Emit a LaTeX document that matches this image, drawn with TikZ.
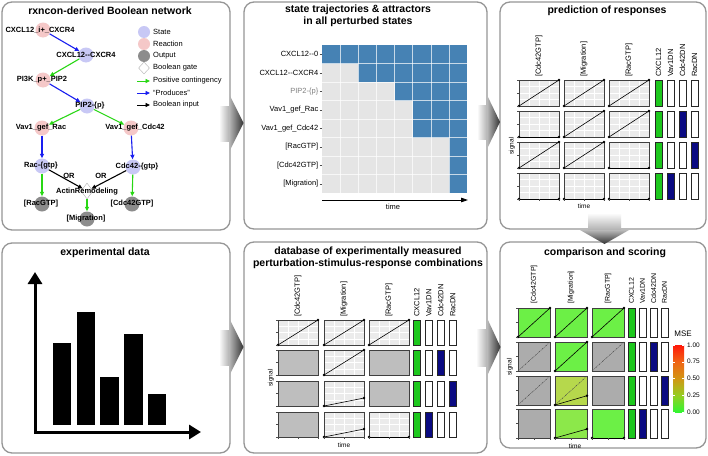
\documentclass[tikz,border=0pt]{standalone}
\usepackage{fontspec}
\setmainfont{Liberation Sans}
\usetikzlibrary{shapes.geometric,arrows.meta}
\definecolor{panelborder}{RGB}{150,150,150}
\definecolor{statec}{RGB}{200,200,245}
\definecolor{reactc}{RGB}{245,200,200}
\definecolor{outc}{RGB}{140,140,140}
\definecolor{posg}{RGB}{40,215,20}
\definecolor{prodb}{RGB}{25,30,240}
\definecolor{hmblue}{RGB}{70,130,180}
\definecolor{hmgray}{RGB}{229,229,229}
\definecolor{cellgray}{RGB}{235,235,235}
\definecolor{nodata}{RGB}{190,190,190}
\definecolor{nodata2}{RGB}{172,172,172}
\definecolor{bargreen}{RGB}{30,200,30}
\definecolor{barblue}{RGB}{10,10,130}
\definecolor{cmpgreen}{RGB}{108,240,70}
\definecolor{cmpyel}{RGB}{182,216,76}
\definecolor{cmpmid}{RGB}{140,232,74}
\definecolor{mse0}{RGB}{50,245,50}
\definecolor{mse25}{RGB}{150,205,35}
\definecolor{mse50}{RGB}{210,150,20}
\definecolor{mse75}{RGB}{240,100,20}
\definecolor{mse100}{RGB}{255,25,10}
\pgfdeclareverticalshading{mseshade}{100bp}{color(0bp)=(mse0); color(25bp)=(mse0); color(37.5bp)=(mse25); color(50bp)=(mse50); color(62.5bp)=(mse75); color(75bp)=(mse100); color(100bp)=(mse100)}
\tikzset{
 panel/.style={draw=panelborder, line width=1.3pt, fill=white, rounded corners=10pt},
 ttl/.style={font=\bfseries\fontsize{10.5}{12}\selectfont, inner sep=0pt},
 nlabel/.style={font=\bfseries\fontsize{7.5}{9}\selectfont, inner sep=0pt},
 legtext/.style={font=\fontsize{7.5}{9}\selectfont, anchor=west, inner sep=0pt},
 hlab/.style={font=\fontsize{7.5}{9}\selectfont, anchor=east, inner sep=0pt},
 colhead/.style={font=\fontsize{7.5}{9}\selectfont, rotate=90, anchor=west, inner sep=0pt},
 colheadsm/.style={font=\fontsize{7}{8}\selectfont, rotate=90, anchor=west, inner sep=0pt},
 axlab/.style={font=\fontsize{6.5}{8}\selectfont, inner sep=0pt},
 cellborder/.style={draw=black!75, line width=0.6pt},
 pline/.style={line width=0.6pt, draw=black},
 dashline/.style={draw=gray!60!black, line width=0.5pt, dash pattern=on 2pt off 1pt on 0.6pt off 1pt},
 tickst/.style={draw=black!70, line width=0.4pt},
 statenode/.style={circle, fill=statec, minimum size=15pt, inner sep=0pt},
 reactnode/.style={circle, fill=reactc, minimum size=15pt, inner sep=0pt},
 outnode/.style={circle, fill=outc, minimum size=15pt, inner sep=0pt},
 gatenode/.style={diamond, draw=gray!60, fill=white, minimum width=12pt, minimum height=16pt, inner sep=0pt},
 posarrow/.style={draw=posg, line width=1.1pt, -{Triangle[length=4.5pt,width=4pt]}},
 prodarrow/.style={draw=prodb, line width=1.1pt, -{Triangle[length=4.5pt,width=4pt]}},
 boolarrow/.style={draw=black, line width=1.1pt, -{Triangle[length=4.5pt,width=4pt]}},
 shaftr/.style={left color=white, right color=gray!65},
 headr/.style={left color=gray!55, right color=black!80}
}
\newcommand{\lcell}[4]{%
 \fill[cellgray] (#1,#2) rectangle ++(#3,#4);
 \foreach \ff in {0.25,0.5,0.75}{%
  \draw[white,line width=0.4pt] ({#1+\ff*#3},#2) -- ++(0,#4);
  \draw[white,line width=0.4pt] (#1,{#2+\ff*#4}) -- ++(#3,0);}
 \draw[cellborder] (#1,#2) rectangle ++(#3,#4);}
\newcommand{\scell}[5]{\filldraw[fill=#5,cellborder] (#1,#2) rectangle ++(#3,#4);}
\newcommand{\lline}[5]{%
 \draw[pline] (#1,{#2+#4}) -- ({#1+#3},{#2+#4-#5*#4});
 \fill (#1,{#2+#4}) circle (1.3pt);
 \fill ({#1+#3},{#2+#4-#5*#4}) circle (1.3pt);}
\newcommand{\dline}[4]{\draw[dashline] (#1,{#2+#4}) -- ++(#3,{-#4});}
\newcommand{\lticks}[3]{\foreach \ff in {0,0.5,1}{\draw[tickst] (#1,{#2+\ff*#3}) -- ++(-2,0);}}
\newcommand{\bticks}[3]{\foreach \ff in {0,0.5,1}{\draw[tickst] ({#1+\ff*#3},#2) -- ++(0,2);}}
\newcommand{\pbar}[5]{\filldraw[fill=#5,draw=black!85,line width=0.6pt] (#1,#2) rectangle ++(#3,#4);}
\begin{document}
\begin{tikzpicture}[x=1pt,y=-1pt,font=\fontsize{7}{8}\selectfont]
\useasboundingbox (0,0) rectangle (708,455);
\fill[white] (0,0) rectangle (708,455);
% panels
\draw[panel] (2,2) rectangle (230,230);
\draw[panel] (244,2) rectangle (487,229);
\draw[panel] (500,2) rectangle (706,229);
\draw[panel] (2,243) rectangle (230,453);
\draw[panel] (244,242) rectangle (487,453);
\draw[panel] (500,242) rectangle (706,448);
% big arrows
\shade[shaftr] (219,106) rectangle (230,141);
\shade[headr] (229,94) -- (243.5,123) -- (229,152) -- cycle;
\shade[shaftr] (477,105) rectangle (488,139);
\shade[headr] (487,95) -- (500,122) -- (487,149) -- cycle;
\shade[top color=white, bottom color=gray!65] (588,213) rectangle (621,231);
\shade[top color=gray!55, bottom color=black!80] (580,230) -- (604.5,244) -- (629,230) -- cycle;
\shade[shaftr] (219,330) rectangle (230,365);
\shade[headr] (229,318) -- (243.5,347) -- (229,376) -- cycle;
\shade[shaftr] (476,329) rectangle (488,366);
\shade[headr] (487,318) -- (500.5,347) -- (487,376) -- cycle;
% ---------- panel 1: network
\node[ttl] (t1) at (110,11) {rxncon-derived Boolean network};
\node[reactnode] (r1) at (43,30) {};
\node[statenode] (s1) at (86,55) {};
\node[reactnode] (r2) at (43,80) {};
\node[statenode] (s2) at (87,106) {};
\node[reactnode] (r3) at (42,128) {};
\node[reactnode] (r4) at (131,128) {};
\node[statenode] (s3) at (42,166) {};
\node[statenode] (s4) at (133,167) {};
\node[gatenode] (g1) at (87,191) {};
\node[outnode] (o1) at (42,204) {};
\node[outnode] (o2) at (132,204) {};
\node[outnode] (o3) at (87,219) {};
\draw[prodarrow] (r1) -- (s1);
\draw[posarrow] (s1) -- (r2);
\draw[prodarrow] (r2) -- (s2);
\draw[posarrow] (s2) -- (r3);
\draw[posarrow] (s2) -- (r4);
\draw[prodarrow] (r3) -- (s3);
\draw[prodarrow] (r4) -- (s4);
\draw[posarrow] (s3) -- (o1);
\draw[posarrow] (s4) -- (o2);
\draw[boolarrow] (s3) -- (g1);
\draw[boolarrow] (s4) -- (g1);
\draw[posarrow] (g1) -- (o3);
\node[nlabel] (l1) at (40,30) {CXCL12\_i+\_CXCR4};
\node[nlabel] (l2) at (86,55) {CXCL12-\kern0pt-CXCR4};
\node[nlabel] (l3) at (42,80) {PI3K\_p+\_PIP2};
\node[nlabel] (l4) at (90,106) {PIP2-\{p\}};
\node[nlabel] (l5) at (41,128) {Vav1\_gef\_Rac};
\node[nlabel] (l6) at (135,128) {Vav1\_gef\_Cdc42};
\node[nlabel] (l7) at (41,166) {Rac-\{gtp\}};
\node[nlabel] (l8) at (137,167) {Cdc42-\{gtp\}};
\node[nlabel] (l9) at (87,192) {ActinRemodeling};
\node[nlabel] (l10) at (41,204) {[RacGTP]};
\node[nlabel] (l11) at (132,204) {[Cdc42GTP]};
\node[nlabel] (l12) at (86,219) {[Migration]};
\node[nlabel] (or1) at (69,176) {OR};
\node[nlabel] (or2) at (101,176) {OR};
% legend
\node[statenode, minimum size=12pt] (lg1) at (144,32) {};
\node[legtext] (lg1t) at (153,32) {State};
\node[reactnode, minimum size=12pt] (lg2) at (144,44) {};
\node[legtext] (lg2t) at (153,44) {Reaction};
\node[outnode, minimum size=12pt] (lg3) at (144,56) {};
\node[legtext] (lg3t) at (153,56) {Output};
\node[gatenode, minimum width=11pt, minimum height=12pt] (lg4) at (144,68) {};
\node[legtext] (lg4t) at (153,68) {Boolean gate};
\coordinate (la1) at (137,81); \coordinate (lb1) at (150,81);
\draw[posarrow, line width=0.9pt] (la1) -- (lb1);
\node[legtext] (lg5t) at (153,81) {Positive contingency};
\coordinate (la2) at (137,93); \coordinate (lb2) at (150,93);
\draw[prodarrow, line width=0.9pt] (la2) -- (lb2);
\node[legtext] (lg6t) at (153,93) {“Produces”};
\coordinate (la3) at (137,105); \coordinate (lb3) at (150,105);
\draw[boolarrow, line width=0.9pt] (la3) -- (lb3);
\node[legtext] (lg7t) at (153,105) {Boolean input};
% ---------- panel 2: heatmap
\node[ttl, align=center] (t2) at (358,16) {state trajectories \& attractors\\in all perturbed states};
\fill[hmgray] (322,45) rectangle (467,193);
\fill[hmblue] (322,45) rectangle (467,63.5);
\fill[hmblue] (358.25,63.5) rectangle (467,82);
\fill[hmblue] (394.5,82) rectangle (467,100.5);
\fill[hmblue] (412.625,100.5) rectangle (467,137.5);
\fill[hmblue] (448.875,137.5) rectangle (467,193);
\foreach \i in {1,...,7}{
 \draw[white, line width=0.45pt, opacity=0.7] ({322+\i*18.125},45) -- ({322+\i*18.125},193);
 \draw[white, line width=0.45pt, opacity=0.7] (322,{45+\i*18.5}) -- (467,{45+\i*18.5});}
\foreach \yy in {54.25,72.75,91.25,109.75,128.25,146.75,165.25,183.75}{\draw[tickst] (319.5,\yy) -- (322,\yy);}
\node[hlab] (h1) at (318.5,54.25) {CXCL12-\kern0pt-0};
\node[hlab] (h2) at (318.5,72.75) {CXCL12-\kern0pt-CXCR4};
\node[hlab, text=gray] (h3) at (318.5,91.25) {PIP2-\{p\}};
\node[hlab] (h4) at (318.5,109.75) {Vav1\_gef\_Rac};
\node[hlab] (h5) at (318.5,128.25) {Vav1\_gef\_Cdc42};
\node[hlab] (h6) at (318.5,146.75) {[RacGTP]};
\node[hlab] (h7) at (318.5,165.25) {[Cdc42GTP]};
\node[hlab] (h8) at (318.5,183.75) {[Migration]};
\coordinate (ta1) at (322,200); \coordinate (ta2) at (468,200);
\draw[line width=0.8pt, -{Triangle[length=7pt,width=4.5pt]}] (ta1) -- (ta2);
\node[font=\fontsize{7.5}{9}\selectfont, inner sep=0pt] (tt) at (393,207) {time};
% ---------- panel 3: prediction
\node[ttl] (t3) at (607,11) {prediction of responses};
\lcell{519}{80}{40}{26}\lline{519}{80}{40}{26}{1}
\lcell{564}{80}{40}{26}\lline{564}{80}{40}{26}{1}
\lcell{609}{80}{40}{26}\lline{609}{80}{40}{26}{1}
\lcell{519}{111}{40}{26}\lline{519}{111}{40}{26}{0}
\lcell{564}{111}{40}{26}\lline{564}{111}{40}{26}{1}
\lcell{609}{111}{40}{26}\lline{609}{111}{40}{26}{1}
\lcell{519}{142}{40}{26}\lline{519}{142}{40}{26}{1}
\lcell{564}{142}{40}{26}\lline{564}{142}{40}{26}{1}
\lcell{609}{142}{40}{26}\lline{609}{142}{40}{26}{0}
\lcell{519}{173}{40}{26}\lline{519}{173}{40}{26}{0}
\lcell{564}{173}{40}{26}\lline{564}{173}{40}{26}{0}
\lcell{609}{173}{40}{26}\lline{609}{173}{40}{26}{0}
\lticks{519}{80}{26}\lticks{519}{111}{26}\lticks{519}{142}{26}\lticks{519}{173}{26}
\bticks{519}{199}{40}\bticks{564}{199}{40}\bticks{609}{199}{40}
\pbar{655}{80}{7}{26}{bargreen}\pbar{667}{80}{7}{26}{white}\pbar{679}{80}{7}{26}{white}\pbar{691}{80}{7}{26}{white}
\pbar{655}{111}{7}{26}{bargreen}\pbar{667}{111}{7}{26}{white}\pbar{679}{111}{7}{26}{barblue}\pbar{691}{111}{7}{26}{white}
\pbar{655}{142}{7}{26}{bargreen}\pbar{667}{142}{7}{26}{white}\pbar{679}{142}{7}{26}{white}\pbar{691}{142}{7}{26}{barblue}
\pbar{655}{173}{7}{26}{bargreen}\pbar{667}{173}{7}{26}{barblue}\pbar{679}{173}{7}{26}{white}\pbar{691}{173}{7}{26}{white}
\node[colhead] (ph1) at (539,77) {[Cdc42GTP]};
\node[colhead] (ph2) at (584,77) {[Migration]};
\node[colhead] (ph3) at (629,77) {[RacGTP]};
\node[colhead] (pb1) at (658.5,77) {CXCL12};
\node[colhead] (pb2) at (670.5,77) {Vav1DN};
\node[colhead] (pb3) at (682.5,77) {Cdc42DN};
\node[colhead] (pb4) at (694.5,77) {RacDN};
\node[axlab, rotate=90] (ps) at (512,146) {signal};
\node[axlab] (pt) at (584,206) {time};
% ---------- panel 4: experimental data
\node[ttl] (t4) at (105,253) {experimental data};
\fill[black] (53,343) rectangle (71,425);
\fill[black] (77,312) rectangle (95,425);
\fill[black] (100,377) rectangle (119,425);
\fill[black] (124,334) rectangle (143,425);
\fill[black] (148,394) rectangle (166,425);
\coordinate (ay) at (35,272); \coordinate (ao) at (35,432); \coordinate (ax) at (201,432);
\draw[line width=3pt, {Triangle[length=12pt,width=14pt]}-{Triangle[length=12pt,width=14pt]}] (ay) -- (ao) -- (ax);
% ---------- panel 5: database
\node[ttl, align=center] (t5) at (368,257.5) {database of experimentally measured\\perturbation-stimulus-response combinations};
\lcell{278}{320}{40}{25}\lline{278}{320}{40}{25}{1}
\lcell{324}{320}{40}{25}\lline{324}{320}{40}{25}{1}
\lcell{369}{320}{40}{25}\lline{369}{320}{40}{25}{1}
\scell{278}{350}{40}{25}{nodata}
\lcell{324}{350}{40}{25}\lline{324}{350}{40}{25}{1}
\scell{369}{350}{40}{25}{nodata}
\scell{278}{381}{40}{25}{nodata}
\lcell{324}{381}{40}{25}\lline{324}{381}{40}{25}{0.32}
\scell{369}{381}{40}{25}{nodata}
\scell{278}{412}{40}{25}{nodata}
\lcell{324}{412}{40}{25}\lline{324}{412}{40}{25}{0.32}
\lcell{369}{412}{40}{25}\lline{369}{412}{40}{25}{0}
\lticks{278}{320}{25}\lticks{278}{350}{25}\lticks{278}{381}{25}\lticks{278}{412}{25}
\bticks{278}{437}{40}\bticks{324}{437}{40}\bticks{369}{437}{40}
\pbar{413}{320}{7.5}{25}{bargreen}\pbar{425}{320}{7.5}{25}{white}\pbar{437}{320}{7.5}{25}{white}\pbar{449}{320}{7.5}{25}{white}
\pbar{413}{350}{7.5}{25}{bargreen}\pbar{425}{350}{7.5}{25}{white}\pbar{437}{350}{7.5}{25}{barblue}\pbar{449}{350}{7.5}{25}{white}
\pbar{413}{381}{7.5}{25}{bargreen}\pbar{425}{381}{7.5}{25}{white}\pbar{437}{381}{7.5}{25}{white}\pbar{449}{381}{7.5}{25}{barblue}
\pbar{413}{412}{7.5}{25}{bargreen}\pbar{425}{412}{7.5}{25}{barblue}\pbar{437}{412}{7.5}{25}{white}\pbar{449}{412}{7.5}{25}{white}
\node[colhead] (dh1) at (298,317) {[Cdc42GTP]};
\node[colhead] (dh2) at (344,317) {[Migration]};
\node[colhead] (dh3) at (389,317) {[RacGTP]};
\node[colhead] (db1) at (416.75,317) {CXCL12};
\node[colhead] (db2) at (428.75,317) {Vav1DN};
\node[colhead] (db3) at (440.75,317) {Cdc42DN};
\node[colhead] (db4) at (452.75,317) {RacDN};
\node[axlab, rotate=90] (ds) at (271,378) {signal};
\node[axlab] (dt) at (344,445) {time};
% ---------- panel 6: comparison
\node[ttl] (t6) at (605,253) {comparison and scoring};
\scell{518}{308}{32}{29}{cmpgreen}\lline{518}{308}{32}{29}{1}
\scell{555}{308}{32}{29}{cmpgreen}\lline{555}{308}{32}{29}{1}
\scell{592}{308}{32}{29}{cmpgreen}\lline{592}{308}{32}{29}{1}
\scell{518}{342}{32}{29}{nodata2}\dline{518}{342}{32}{29}
\scell{555}{342}{32}{29}{cmpgreen}\lline{555}{342}{32}{29}{1}
\scell{592}{342}{32}{29}{nodata2}\dline{592}{342}{32}{29}
\scell{518}{376}{32}{29}{nodata2}\dline{518}{376}{32}{29}
\scell{555}{376}{32}{29}{cmpyel}\dline{555}{376}{32}{29}\lline{555}{376}{32}{29}{0.32}
\scell{592}{376}{32}{29}{nodata2}
\scell{518}{409}{32}{29}{nodata2}
\scell{555}{409}{32}{29}{cmpmid}\lline{555}{409}{32}{29}{0.31}
\scell{592}{409}{32}{29}{cmpgreen}\lline{592}{409}{32}{29}{0}
\lticks{518}{308}{29}\lticks{518}{342}{29}\lticks{518}{376}{29}\lticks{518}{409}{29}
\bticks{518}{438}{32}\bticks{555}{438}{32}\bticks{592}{438}{32}
\pbar{628}{308}{7}{29}{bargreen}\pbar{639}{308}{7}{29}{white}\pbar{650}{308}{7}{29}{white}\pbar{661}{308}{7}{29}{white}
\pbar{628}{342}{7}{29}{bargreen}\pbar{639}{342}{7}{29}{white}\pbar{650}{342}{7}{29}{barblue}\pbar{661}{342}{7}{29}{white}
\pbar{628}{376}{7}{29}{bargreen}\pbar{639}{376}{7}{29}{white}\pbar{650}{376}{7}{29}{white}\pbar{661}{376}{7}{29}{barblue}
\pbar{628}{409}{7}{29}{bargreen}\pbar{639}{409}{7}{29}{barblue}\pbar{650}{409}{7}{29}{white}\pbar{661}{409}{7}{29}{white}
\node[colheadsm] (ch1) at (534,304) {[Cdc42GTP]};
\node[colheadsm] (ch2) at (571,304) {[Migration]};
\node[colheadsm] (ch3) at (608,304) {[RacGTP]};
\node[colheadsm] (cb1) at (631.5,304) {CXCL12};
\node[colheadsm] (cb2) at (642.5,304) {Vav1DN};
\node[colheadsm] (cb3) at (653.5,304) {Cdc42DN};
\node[colheadsm] (cb4) at (664.5,304) {RacDN};
\node[axlab, rotate=90] (cs) at (510,367) {signal};
\node[axlab] (ct) at (575,446) {time};
% MSE legend
\node[font=\fontsize{8}{9}\selectfont, inner sep=0pt] (mse) at (683,334) {MSE};
\shade[shading=mseshade] (673,345) rectangle (684,412);
\foreach \yy/\lab/\nm in {345/1.00/m1,361.75/0.75/m2,378.5/0.50/m3,395.25/0.25/m4,412/0.00/m5}{
 \draw[white, line width=0.5pt] (673,\yy) -- ++(2,0);
 \draw[white, line width=0.5pt] (684,\yy) -- ++(-2,0);
 \node[font=\fontsize{6.5}{8}\selectfont, anchor=west, inner sep=0pt] (\nm) at (687,\yy) {\lab};}
\end{tikzpicture}
\end{document}
